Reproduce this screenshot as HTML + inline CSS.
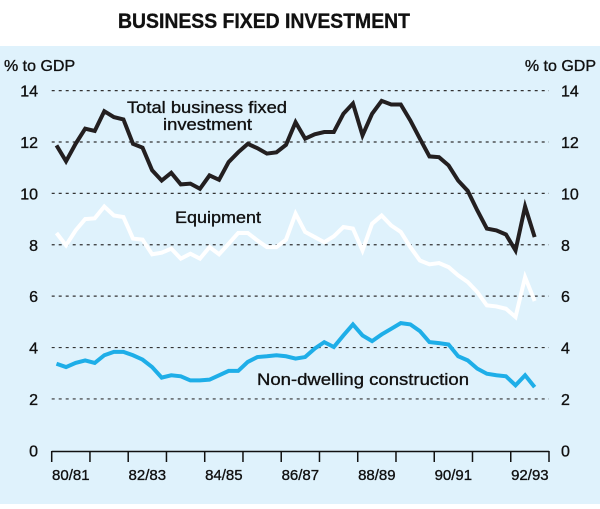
<!DOCTYPE html>
<html><head><meta charset="utf-8"><style>
body{margin:0;width:600px;height:504px;background:#fff;font-family:"Liberation Sans",Arial,sans-serif;overflow:hidden}
svg text{font-family:"Liberation Sans",Arial,sans-serif;stroke:#111;stroke-width:0.35}
</style></head><body>
<svg id="chart" width="600" height="504">
<rect x="0" y="46" width="600" height="458" fill="#dff2fc"/>
<text x="118" y="28" font-size="21" font-weight="bold" fill="#111" textLength="292" lengthAdjust="spacingAndGlyphs">BUSINESS FIXED INVESTMENT</text>
<text x="4" y="71" font-size="16" fill="#111">% to GDP</text>
<text x="596" y="71" text-anchor="end" font-size="16" fill="#111">% to GDP</text>
<g id="grid"></g><g id="axes"></g><g id="series"></g>
<text x="127" y="113" font-size="17" fill="#111" textLength="160" lengthAdjust="spacingAndGlyphs">Total business fixed</text>
<text x="163" y="130" font-size="17" fill="#111" textLength="89" lengthAdjust="spacingAndGlyphs">investment</text>
<text x="175" y="223" font-size="17" fill="#111" textLength="86" lengthAdjust="spacingAndGlyphs">Equipment</text>
<text x="257" y="385" font-size="17" fill="#111" textLength="212" lengthAdjust="spacingAndGlyphs">Non-dwelling construction</text>
</svg>
<script>
const yearLabels=["80/81","82/83","84/85","86/87","88/89","90/91","92/93"];
const yTicks=[0,2,4,6,8,10,12,14];
const total=[11.87,11.25,11.93,12.52,12.43,13.2,12.97,12.88,11.93,11.78,10.9,10.5,10.8,10.35,10.38,10.18,10.7,10.53,11.22,11.6,11.93,11.76,11.55,11.6,11.89,12.77,12.13,12.3,12.39,12.39,13.1,13.5,12.26,13.1,13.6,13.46,13.46,12.84,12.13,11.44,11.41,11.09,10.5,10.1,9.34,8.63,8.56,8.4,7.78,9.49,8.3];
const equipment=[8.46,7.98,8.56,9.0,9.03,9.49,9.14,9.08,8.24,8.2,7.63,7.69,7.85,7.46,7.65,7.46,7.91,7.63,8.04,8.46,8.46,8.17,7.91,7.91,8.2,9.21,8.5,8.3,8.1,8.33,8.69,8.63,7.78,8.82,9.14,8.75,8.5,7.91,7.39,7.24,7.29,7.13,6.81,6.55,6.16,5.64,5.6,5.51,5.19,6.74,5.81];
const nonDwelling=[3.37,3.24,3.4,3.5,3.4,3.7,3.83,3.83,3.7,3.53,3.24,2.83,2.92,2.88,2.72,2.72,2.75,2.92,3.09,3.09,3.44,3.63,3.66,3.7,3.66,3.57,3.63,3.96,4.21,4.02,4.47,4.9,4.47,4.25,4.51,4.73,4.95,4.9,4.64,4.21,4.17,4.12,3.66,3.5,3.18,2.98,2.92,2.88,2.53,2.92,2.46];
const NS="http://www.w3.org/2000/svg";
const x0=51.7,x1=549,nQ=52,qw=(x1-x0)/nQ;
const xq=i=>x0+qw*(i+0.5);
const yv=v=>450.3-25.69*v;
function mk(t,a,p){const e=document.createElementNS(NS,t);for(const k in a)e.setAttribute(k,a[k]);p.appendChild(e);return e;}
const grid=document.getElementById('grid'),axes=document.getElementById('axes'),ser=document.getElementById('series');
yTicks.forEach(v=>{
  if(v>0){const l=mk('line',{x1:x0,x2:x1,y1:yv(v),y2:yv(v),stroke:'#333','stroke-width':1.2,'stroke-dasharray':'3,4'},grid);
  
  }
  const a=mk('text',{x:38,y:yv(v)+6,'text-anchor':'end','font-size':16,fill:'#111'},axes);a.textContent=v;
  
  
  const b=mk('text',{x:561,y:yv(v)+6,'text-anchor':'start','font-size':16,fill:'#111'},axes);b.textContent=v;
  
  
});
const ax=mk('line',{x1:x0,x2:x1,y1:451.5,y2:451.5,stroke:'#111','stroke-width':1.5},axes);


for(let k=0;k<=13;k++){const t=mk('line',{x1:x0+qw*4*k,x2:x0+qw*4*k,y1:451,y2:462,stroke:'#111','stroke-width':1.5},axes);
  
  }
yearLabels.forEach((s,k)=>{const t=mk('text',{x:x0+qw*4*(2*k)+qw*2,y:480,'text-anchor':'middle','font-size':15,fill:'#111'},axes);t.textContent=s;
  
  });
function line(d,c,name){const p=mk('polyline',{points:d.map((v,i)=>xq(i)+','+yv(v)).join(' '),fill:'none',stroke:c,'stroke-width':4,'stroke-linejoin':'miter'},ser);
  
  }
line(nonDwelling,'#1eaee8','non-dwelling-line');
line(equipment,'#ffffff','equipment-line');
line(total,'#231f20','total-line');
</script>
</body></html>
